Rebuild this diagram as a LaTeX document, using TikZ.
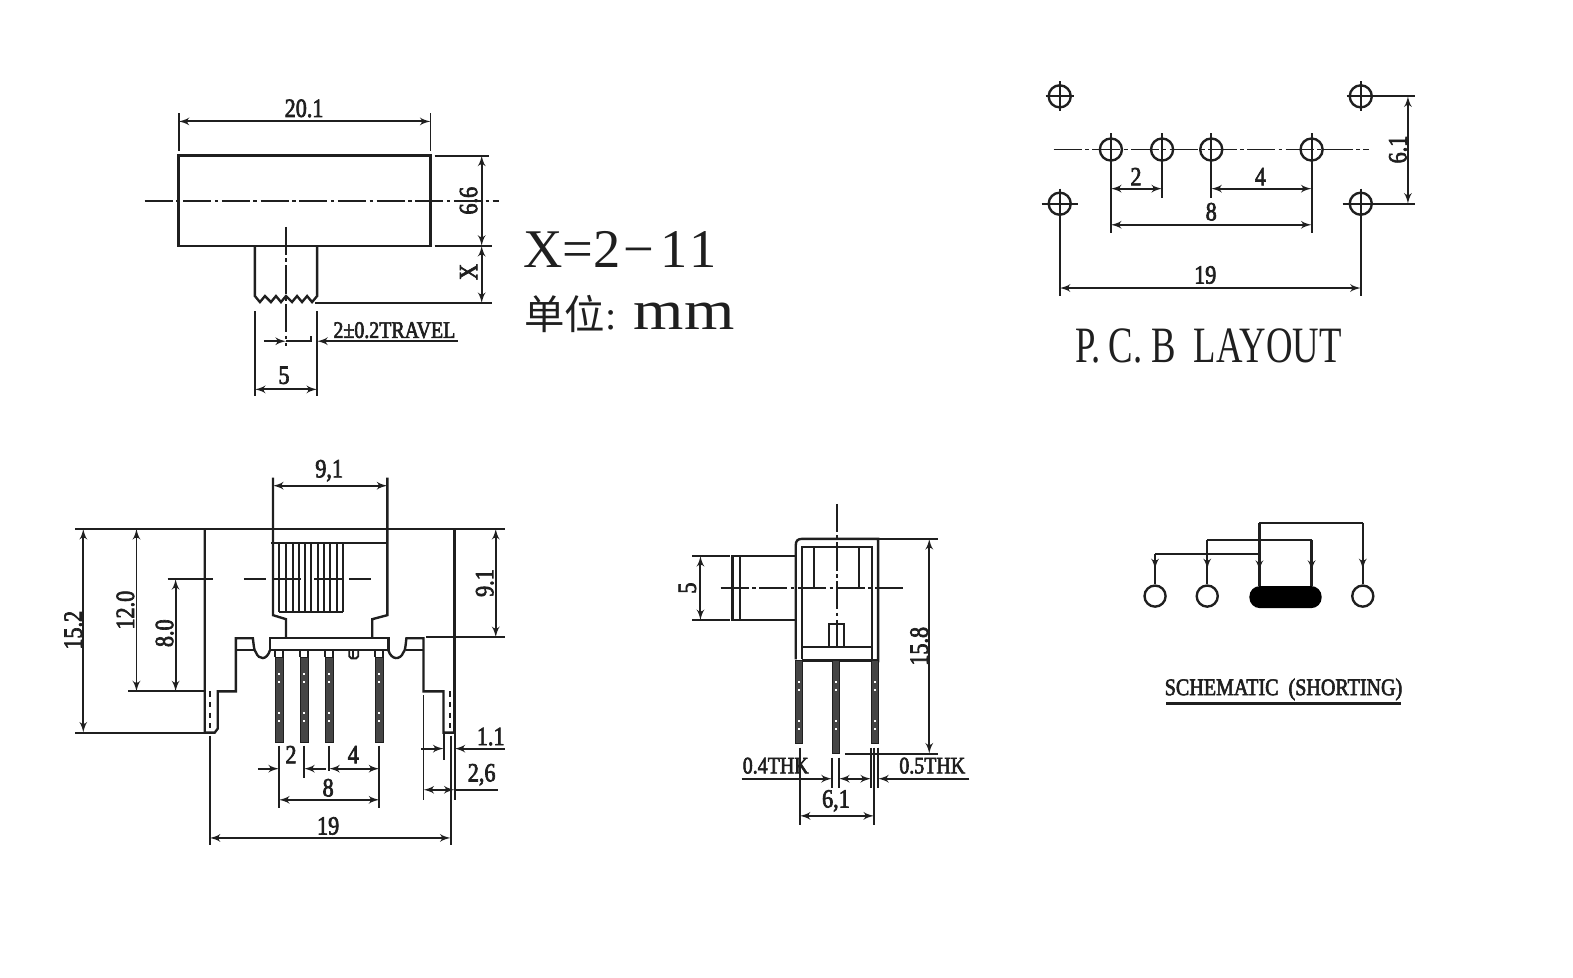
\documentclass[tikz,border=0pt]{standalone}
\usepackage{fontspec}
\setmainfont{Liberation Serif}
\newfontfamily\dimfont[FakeStretch=0.84,FakeBold=2.5]{Liberation Serif}
\newfontfamily\titlefont[FakeStretch=0.72]{Liberation Serif}
\newfontfamily\widefont[FakeStretch=1.15]{Liberation Serif}
\newfontfamily\cjkfont{Noto Sans CJK SC}
\usetikzlibrary{arrows}
\usetikzlibrary{decorations.markings}
\usetikzlibrary{positioning}
\definecolor{mink}{rgb}{0.12, 0.12, 0.12}
\definecolor{mpin}{rgb}{0.27, 0.27, 0.27}
\tikzset{part/.style = {mink, line width=1.35pt}}
\tikzset{thin part/.style = {mink, line width=1.1pt}}
\tikzset{dimline/.style = {mink, line width=1.1pt, latex'-latex'}}
\tikzset{tipend/.style = {mink, line width=1.1pt, -latex'}}
\tikzset{axisline/.style = {mink, line width=1.1pt, dash pattern=on 16pt off 2pt on 2pt off 2pt}}
\tikzset{pinbar/.style = {fill=mpin, draw=mink, line width=0.5pt}}
\tikzset{dimtext/.style = {mink, inner sep=0pt, font=\dimfont\fontsize{15}{15}\selectfont}}
\tikzset{sidetext/.style = {dimtext, rotate=90}}
\tikzset{pad/.style = {mink, line width=1.35pt, fill=white, circle, draw, minimum size=12pt, inner sep=0pt}}
\tikzset{pinwire/.style = {part, decoration={markings,
                                  mark=at position -0.3cm with {\arrow[scale=0.9]{latex'}}},
                      postaction={decorate}}}
\begin{document}
\begin{tikzpicture}[x=0.02007cm, y=-0.02007cm]
    \useasboundingbox (0, 0) rectangle (1567.5, 973.6);

    % top view
    \draw [part] (178, 155) rectangle (429, 245);
    \draw [axisline] (144, 200) -- (497, 200);
    \draw [part] (254, 245) -- (254, 295) -- (259, 301) -- (264, 295) -- (270, 301) -- (275, 295) -- (280, 301)
      -- (285, 295) -- (291, 301) -- (296, 295) -- (301, 301) -- (306, 295) -- (311, 301) -- (316, 295) -- (316, 245);
    \draw [axisline] (285, 226) -- (285, 345);
    \draw [thin part] (178, 113) -- (178, 150);
    \draw [thin part] (429, 113) -- (429, 150);
    \draw [dimline] (178, 121) -- (429, 121);
    \node [dimtext] (toplength) at (303, 108) {20.1};
    \draw [thin part] (433, 155) -- (487, 155);
    \draw [thin part] (433, 245) -- (490, 245);
    \draw [thin part] (314, 302) -- (490, 302);
    \draw [dimline] (480, 155) -- (480, 245);
    \draw [dimline] (480, 245) -- (480, 302);
    \node [sidetext] (topwidth) at (467, 200) {6.6};
    \node [sidetext] (toptravel) at (467, 271) {X};
    \draw [thin part] (254, 310) -- (254, 395);
    \draw [thin part] (316, 310) -- (316, 395);
    \draw [dimline] (254, 388) -- (316, 388);
    \node [dimtext] (knobwidth) at (283, 374) {5};
    \draw [tipend] (263, 340) -- (285, 340);
    \draw [thin part] (285, 340) -- (310, 340) -- (310, 335);
    \draw [tipend] (456, 340) -- (316, 340);
    \node [dimtext, font=\dimfont\fontsize{13.5}{13.5}\selectfont] (travel) at (393, 329) {2±0.2TRAVEL};

    \node [anchor=west, inner sep=0pt, mink, font=\fontsize{31}{31}\selectfont] (xrange) at (521, 249) {X=2\kern2pt−\kern3pt1\kern1.5pt1};
    \node [anchor=west, inner sep=0pt, mink, font=\fontsize{23}{23}\selectfont] (unit) at (522, 313)
      {{\cjkfont 单位}:\hspace{10pt}{\widefont\fontsize{32}{32}\selectfont mm}};

    % pcb layout
    \foreach \x/\y/\r in {1056/96/14, 1356/96/14, 1056/203/18, 1356/203/18} {
      \draw [part] (\x, \y) circle [radius=11];
      \draw [thin part] (\x-\r, \y) -- (\x+\r, \y);
      \draw [thin part] (\x, \y-15) -- (\x, \y+15);
    }
    \draw [axisline] (1050, 149) -- (1364, 149);
    \foreach \x/\y in {1107/232, 1158/197, 1207/197, 1307/232} {
      \draw [part] (\x, 149) circle [radius=11];
      \draw [thin part] (\x, 133) -- (\x, \y);
    }
    \draw [thin part] (1056, 218) -- (1056, 295);
    \draw [thin part] (1356, 218) -- (1356, 295);
    \draw [dimline] (1107, 188) -- (1158, 188);
    \draw [dimline] (1207, 188) -- (1307, 188);
    \draw [dimline] (1107, 224) -- (1307, 224);
    \draw [dimline] (1056, 287) -- (1356, 287);
    \node [dimtext] (padgap) at (1132, 176) {2};
    \node [dimtext] (padgapb) at (1256, 176) {4};
    \node [dimtext] (padspan) at (1207, 211) {8};
    \node [dimtext] (mountspan) at (1201, 274) {19};
    \draw [thin part] (1367, 96) -- (1410, 96);
    \draw [thin part] (1367, 203) -- (1410, 203);
    \draw [dimline] (1403, 96) -- (1403, 203);
    \node [sidetext] (mountrow) at (1393, 149) {6.1};
    \node [mink, inner sep=0pt, font=\titlefont\fontsize{29}{29}\selectfont] (pcbtitle) at (1204, 345) {P.\,C.\,B\ \ LAYOUT};

    % front view
    \draw [thin part] (75, 527) -- (503, 527);
    \draw [part] (204, 527) -- (204, 730) -- (214, 730) -- (217, 726) -- (217, 689) -- (235, 689) -- (235, 636)
      -- (252, 636) .. controls (253, 644) and (253, 648) .. (255, 650) .. controls (258, 658) and (266, 658) .. (269, 648);
    \draw [part] (235, 648) -- (254, 648);
    \draw [part] (269, 636) rectangle (387, 648);
    \draw [part] (387, 648) .. controls (390, 658) and (399, 658) .. (402, 650) .. controls (404, 648) and (404, 644) .. (405, 636)
      -- (422, 636) -- (422, 689) -- (442, 689) -- (442, 730) -- (453, 730);
    \draw [part] (405, 648) -- (422, 648);
    \draw [part] (453, 527) -- (453, 730);
    \draw [thin part, dashed] (209, 689) -- (209, 730);
    \draw [thin part, dashed] (448, 689) -- (448, 730);
    % slider
    \draw [part] (272, 476) -- (272, 613) -- (285, 617) -- (285, 636);
    \draw [part] (386, 476) -- (386, 613) -- (371, 617) -- (371, 636);
    \draw [part] (270, 541) -- (387, 541);
    \foreach \x in {278, 285, 292, 298, 304, 310, 317, 323, 329, 336, 342}
      \draw [thin part] (\x, 541) -- (\x, 610);
    \draw [thin part] (278, 610) -- (342, 610);
    \draw [thin part] (167, 577) -- (212, 577);
    \draw [thin part] (243, 577) -- (265, 577);
    \draw [thin part] (272, 577) -- (300, 577);
    \draw [thin part] (313, 577) -- (343, 577);
    \draw [thin part] (348, 577) -- (370, 577);
    % pins
    \foreach \x in {278, 303, 328, 378} {
      \draw [pinbar] (\x-4, 655) rectangle (\x+4, 740);
      \draw [thin part] (\x-4, 648) -- (\x-4, 655);
      \draw [thin part] (\x+4, 648) -- (\x+4, 655);
      \foreach \y in {672, 680, 710, 718}
        \fill [white] (\x-1, \y-1) rectangle (\x+1, \y+1);
    }
    \draw [thin part] (348, 648) -- (348, 654) -- (350, 656) -- (355, 656) -- (357, 654) -- (357, 648);
    \draw [thin part] (352, 648) -- (352, 656);
    \draw [thin part] (278, 743) -- (278, 805);
    \draw [thin part] (303, 743) -- (303, 775);
    \draw [thin part] (328, 743) -- (328, 768);
    \draw [thin part] (378, 743) -- (378, 805);
    \draw [tipend] (257, 766) -- (278, 766);
    \draw [tipend] (325, 766) -- (303, 766);
    \draw [dimline] (328, 766) -- (378, 766);
    \draw [dimline] (278, 797) -- (378, 797);
    \node [dimtext] (pingap) at (290, 752) {2};
    \node [dimtext] (pingapb) at (352, 752) {4};
    \node [dimtext] (pinspan) at (327, 785) {8};
    % front view dimensions
    \draw [dimline] (272, 484) -- (386, 484);
    \node [dimtext] (slidewidth) at (328, 469) {9,1};
    \draw [thin part] (75, 730) -- (204, 730);
    \draw [thin part] (128, 689) -- (204, 689);
    \draw [dimline] (83, 527) -- (83, 730);
    \draw [dimline] (136, 527) -- (136, 689);
    \draw [dimline] (175, 577) -- (175, 689);
    \node [sidetext] (frontheight) at (73, 628) {15.2};
    \node [sidetext] (frontupper) at (125, 608) {12.0};
    \node [sidetext] (frontaxis) at (164, 631) {8.0};
    \draw [thin part] (425, 635) -- (503, 635);
    \draw [dimline] (494, 527) -- (494, 635);
    \node [sidetext] (frontright) at (483, 581) {9.1};
    \draw [thin part] (209, 733) -- (209, 842);
    \draw [thin part] (449, 733) -- (449, 842);
    \draw [dimline] (209, 835) -- (449, 835);
    \node [dimtext] (footspan) at (327, 823) {19};
    \draw [thin part] (442, 730) -- (442, 757);
    \draw [thin part] (453, 730) -- (453, 797);
    \draw [thin part] (422, 693) -- (422, 797);
    \draw [tipend] (420, 746) -- (442, 746);
    \draw [tipend] (503, 746) -- (453, 746);
    \node [dimtext] (footthick) at (489, 734) {1.1};
    \draw [dimline] (422, 787) -- (453, 787);
    \draw [thin part] (453, 787) -- (496, 787);
    \node [dimtext] (footwide) at (480, 772) {2,6};

    % side view
    \draw [axisline] (834, 502) -- (834, 645);
    \draw [part] (793, 657) -- (793, 543) .. controls (793, 539) and (795, 537) .. (799, 537) -- (875, 537) -- (875, 660);
    \draw [part] (799, 657) -- (799, 545) -- (869, 545) -- (869, 657);
    \draw [thin part] (811, 545) -- (811, 586);
    \draw [thin part] (856, 545) -- (856, 586);
    \draw [axisline] (718, 586) -- (902, 586);
    \draw [part] (793, 554) -- (730, 554) -- (730, 618) -- (793, 618);
    \draw [thin part] (737, 554) -- (737, 618);
    \draw [thin part] (690, 554) -- (727, 554);
    \draw [thin part] (690, 618) -- (727, 618);
    \draw [dimline] (698, 554) -- (698, 618);
    \node [sidetext] (sideknob) at (685, 586) {5};
    \draw [part] (799, 645) -- (869, 645);
    \draw [part] (799, 658) -- (875, 658);
    \draw [thin part] (826, 622) rectangle (841, 645);
    \foreach \x/\y in {796/741, 872/741, 833/751} {
      \draw [pinbar] (\x-3.5, 658) rectangle (\x+3.5, \y);
      \foreach \z in {680, 688, 718, 726}
        \fill [white] (\x-1, \z-1) rectangle (\x+1, \z+1);
    }
    \draw [thin part] (842, 751) -- (935, 751);
    \draw [thin part] (875, 537) -- (935, 537);
    \draw [dimline] (926, 537) -- (926, 751);
    \node [sidetext] (sideheight) at (916, 644) {15.8};
    \draw [thin part] (797, 745) -- (797, 822);
    \draw [thin part] (871, 745) -- (871, 822);
    \draw [thin part] (829, 755) -- (829, 785);
    \draw [thin part] (836, 755) -- (836, 785);
    \draw [thin part] (868, 745) -- (868, 785);
    \draw [thin part] (875, 745) -- (875, 785);
    \draw [dimline] (797, 813) -- (871, 813);
    \node [dimtext] (sidepitch) at (833, 798) {6,1};
    \draw [tipend] (739, 776) -- (829, 776);
    \draw [tipend] (860, 776) -- (836, 776);
    \draw [tipend] (848, 776) -- (868, 776);
    \draw [tipend] (966, 776) -- (875, 776);
    \node [dimtext, font=\dimfont\fontsize{13.5}{13.5}\selectfont] (thinpin) at (773, 763) {0.4THK};
    \node [dimtext, font=\dimfont\fontsize{13.5}{13.5}\selectfont] (thickpin) at (929, 763) {0.5THK};

    % schematic
    \node [pad] (pinone) at (1151, 594) {};
    \node [pad] (pintwo) at (1203, 594) {};
    \node [pad] (pinfive) at (1358, 594) {};
    \fill [black, rounded corners=6pt] (1245, 584) rectangle (1317, 606);
    \coordinate (capleft) at (1255, 584);
    \coordinate (capright) at (1307, 584);
    \coordinate (busone) at (1151, 552);
    \coordinate (bustwo) at (1203, 538);
    \coordinate (busthree) at (1255, 521);
    \coordinate (busfour) at (1307, 538);
    \coordinate (busfive) at (1358, 521);
    \draw [part] (busone) -- (1255, 552);
    \draw [part] (bustwo) -- (busfour);
    \draw [part] (busthree) -- (busfive);
    \draw [pinwire] (busone) -- (pinone);
    \draw [pinwire] (bustwo) -- (pintwo);
    \draw [pinwire] (busthree) -- (capleft);
    \draw [pinwire] (busfour) -- (capright);
    \draw [pinwire] (busfive) -- (pinfive);
    \node [dimtext, font=\dimfont\fontsize{13.6}{13.6}\selectfont] (schemtitle) at (1279, 687) {SCHEMATIC\ \ (SHORTING)};
    \draw [part] (1162, 701) -- (1396, 701);
  \end{tikzpicture}
\end{document}
